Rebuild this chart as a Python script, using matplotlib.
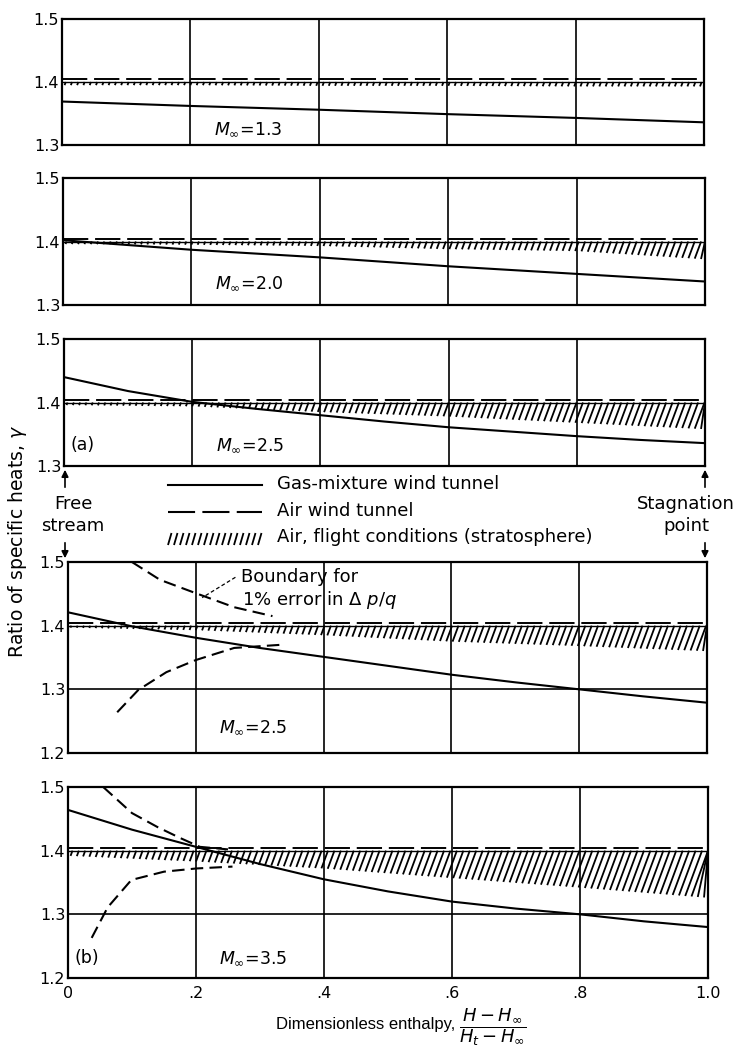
import matplotlib
matplotlib.use("Agg")
import matplotlib.pyplot as plt
import numpy as np
from matplotlib.collections import LineCollection

plt.rcParams['font.family'] = ['DejaVu Sans']
plt.rcParams['mathtext.fontset'] = 'dejavusans'

# ---- data ----
x_lin = [0, .2, .4, .6, .8, 1.0]
x_fine = [0, .1, .2, .3, .4, .5, .6, .7, .8, .9, 1.0]

mach = ["1.3", "2.0", "2.5", "2.5", "3.5"]
panel_tag = [None, None, "(a)", None, "(b)"]

# gas-mixture wind tunnel (solid)
gas_13 = [1.369, 1.362, 1.356, 1.349, 1.343, 1.336]
gas_20 = [1.402, 1.387, 1.375, 1.361, 1.349, 1.337]
gas_25a = [1.440, 1.418, 1.401, 1.390, 1.380, 1.370, 1.361, 1.354, 1.347, 1.341, 1.336]
gas_25b = [1.421, 1.399, 1.381, 1.365, 1.351, 1.337, 1.323, 1.311, 1.300, 1.289, 1.279]
gas_35 = [1.464, 1.433, 1.406, 1.379, 1.355, 1.336, 1.320, 1.309, 1.300, 1.289, 1.280]

# air wind tunnel (dashed)
air_tunnel = 1.404

# air, flight conditions: band from 1.40 down to lower edge
flight_top = 1.40
flight_13 = [1.395, 1.395, 1.394, 1.394, 1.393, 1.393]
flight_20 = [1.396, 1.395, 1.393, 1.388, 1.385, 1.372]
flight_25a = [1.396, 1.394, 1.385, 1.378, 1.368, 1.358]
flight_25b = [1.397, 1.393, 1.385, 1.375, 1.368, 1.360]
flight_35 = [1.392, 1.383, 1.372, 1.357, 1.342, 1.326]

# boundary for 1% error in dp/q
bnd_up4_x = [0.10, 0.144, 0.20, 0.26, 0.32]
bnd_up4_y = [1.500, 1.472, 1.451, 1.429, 1.415]
bnd_lo4_x = [0.077, 0.11, 0.154, 0.20, 0.26, 0.334]
bnd_lo4_y = [1.264, 1.299, 1.327, 1.346, 1.365, 1.370]
bnd_up5_x = [0.055, 0.10, 0.14, 0.175, 0.206, 0.25]
bnd_up5_y = [1.500, 1.459, 1.437, 1.420, 1.406, 1.402]
bnd_lo5_x = [0.037, 0.062, 0.099, 0.15, 0.20, 0.257]
bnd_lo5_y = [1.263, 1.311, 1.354, 1.367, 1.372, 1.375]

gas = [(x_lin, gas_13), (x_lin, gas_20), (x_fine, gas_25a), (x_fine, gas_25b), (x_fine, gas_35)]
flight = [flight_13, flight_20, flight_25a, flight_25b, flight_35]
bounds = [None, None, None,
          [(bnd_up4_x, bnd_up4_y), (bnd_lo4_x, bnd_lo4_y)],
          [(bnd_up5_x, bnd_up5_y), (bnd_lo5_x, bnd_lo5_y)]]

xtick_labels = ["0", ".2", ".4", ".6", ".8", "1.0"]

# ---- layout (pixels) ----
W, H = 736, 1061
boxes = [(62, 704, 19, 145), (63, 705, 178, 305), (64, 705, 339, 466),
         (68, 707, 562, 753), (68, 708, 787, 978)]
ylims = [(1.3, 1.5)] * 3 + [(1.2, 1.5)] * 2
mlabel_dy = [0.025, 0.035, 0.033, 0.041, 0.031]

fig = plt.figure(figsize=(W / 100, H / 100), dpi=100)


def hatch_band(ax, xs, low, top):
    sx = np.arange(0.004, 0.995, 0.0098)
    lo = np.interp(sx, xs, low)
    dx = 0.37 * (top - lo)
    segs = [[(a, b), (min(a + d, 1.0), top)] for a, b, d in zip(sx, lo, dx)]
    ax.add_collection(LineCollection(segs, colors="black", linewidths=1.3))


for i, (l, r, t, b) in enumerate(boxes):
    ax = fig.add_axes([l / W, 1 - b / H, (r - l) / W, (b - t) / H])
    y0, y1 = ylims[i]
    ax.set_xlim(0, 1)
    ax.set_ylim(y0, y1)
    for s in ax.spines.values():
        s.set_linewidth(1.6)
    for gx in [.2, .4, .6, .8]:
        ax.axvline(gx, color="black", lw=1.2)
    ax.axhline(flight_top, color="black", lw=1.0)
    if y0 < 1.25:
        ax.axhline(1.3, color="black", lw=1.2)

    hatch_band(ax, x_lin, flight[i], flight_top)
    ax.plot([0, 1], [air_tunnel, air_tunnel], color="black", lw=1.4, dashes=(13, 3.5))
    gx_, gy_ = gas[i]
    ax.plot(gx_, gy_, color="black", lw=1.5)
    if bounds[i] is not None:
        for bx, by in bounds[i]:
            ax.plot(bx, by, color="black", lw=1.5, dashes=(6, 3))

    yt = np.round(np.arange(y0, y1 + 0.001, 0.1), 1)
    ax.set_yticks(yt)
    ax.set_yticklabels([f"{v:.1f}" for v in yt], fontsize=11.5)
    ax.set_xticks(x_lin)
    if i == 4:
        ax.set_xticklabels(xtick_labels, fontsize=11.5)
    else:
        ax.set_xticklabels([])
    ax.tick_params(axis="y", length=0, pad=2)
    ax.tick_params(axis="x", length=0, pad=6)

    ax.text(0.29, y0 + mlabel_dy[i], r"$M_\infty$=" + mach[i], fontsize=12.5, ha="center", va="center")
    if panel_tag[i]:
        ax.text(0.01, y0 + mlabel_dy[i], panel_tag[i], fontsize=12.5, ha="left", va="center")

    if i == 3:
        ax.plot([0.262, 0.21], [1.476, 1.444], color="black", lw=0.9, dashes=(3, 2))
        ax.text(0.27, 1.476, "Boundary for", fontsize=13, ha="left", va="center")
        ax.text(0.272, 1.441, r"1% error in $\Delta\ p/q$", fontsize=13, ha="left", va="center")

# overlay in pixel coordinates for legend, arrows and labels
lax = fig.add_axes([0, 0, 1, 1], facecolor="none")
lax.set_xlim(0, W)
lax.set_ylim(H, 0)
lax.axis("off")

lx0, lx1, tx = 168, 262, 277
lax.plot([lx0, lx1], [485, 485], color="black", lw=1.5)
lax.text(tx, 484, "Gas-mixture wind tunnel", fontsize=13, va="center")
lax.plot([lx0, lx1], [512, 512], color="black", lw=1.5, dashes=(13, 3.5))
lax.text(tx, 511, "Air wind tunnel", fontsize=13, va="center")
hx = np.arange(lx0, lx1, 6.0)
lax.add_collection(LineCollection([[(a, 545), (a + 3.5, 533)] for a in hx], colors="black", linewidths=1.3))
lax.text(tx, 537, "Air, flight conditions (stratosphere)", fontsize=13, va="center")

arrow = dict(arrowstyle="-|>", color="black", lw=1.2, mutation_scale=10)
for ax_x in (65, 705):
    lax.annotate("", xy=(ax_x, 467), xytext=(ax_x, 490), arrowprops=arrow)
    lax.annotate("", xy=(ax_x, 561), xytext=(ax_x, 540), arrowprops=arrow)
lax.text(73, 504, "Free", fontsize=13, ha="center", va="center")
lax.text(73, 526, "stream", fontsize=13, ha="center", va="center")
lax.text(686, 504, "Stagnation", fontsize=13, ha="center", va="center")
lax.text(686, 526, "point", fontsize=13, ha="center", va="center")

lax.text(18, 541, r"Ratio of specific heats, $\gamma$", fontsize=13.5, rotation=90, ha="center", va="center")

lax.text(455, 1024, "Dimensionless enthalpy,", fontsize=12, family=["Liberation Sans", "DejaVu Sans"],
         ha="right", va="center")
lax.text(459, 1027, r"$\dfrac{H-H_\infty}{H_t-H_\infty}$", fontsize=13, ha="left", va="center")

fig.savefig("out.png", dpi=100)
